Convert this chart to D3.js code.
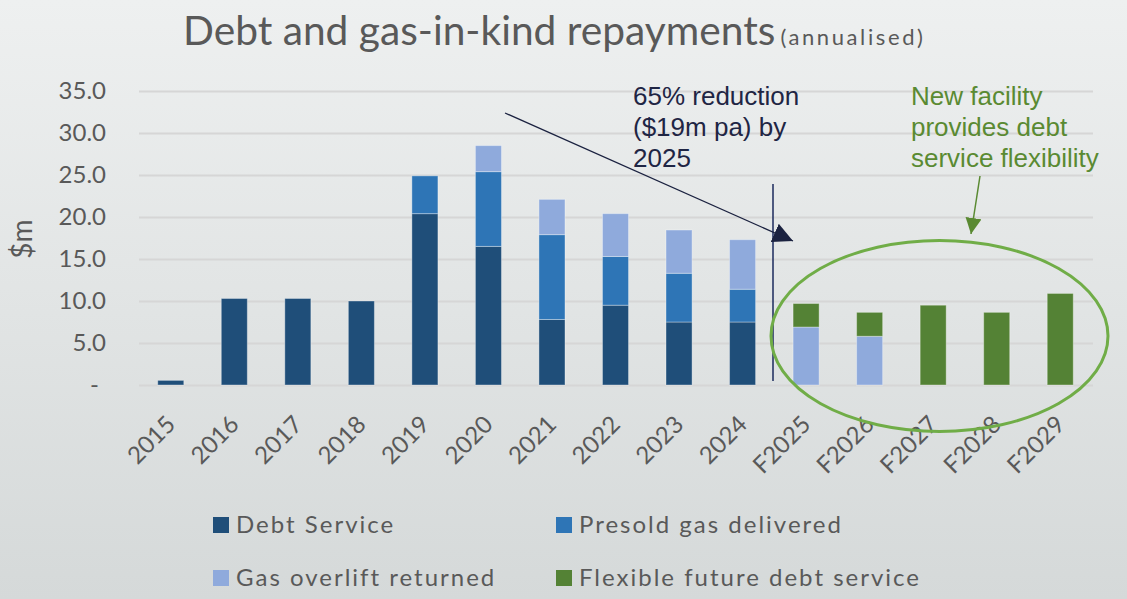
<!DOCTYPE html>
<html>
<head>
<meta charset="utf-8">
<script src="https://cdn.jsdelivr.net/npm/d3@7"></script>
<style>
  html, body { margin: 0; padding: 0; }
  body { width: 1127px; height: 599px; overflow: hidden; }
</style>
</head>
<body>
<div id="chart"></div>
<script>
// Chart data
const categories = ['2015', '2016', '2017', '2018', '2019', '2020', '2021', '2022', '2023', '2024',
  'F2025', 'F2026', 'F2027', 'F2028', 'F2029'];
const debtService = [0.55, 10.3, 10.3, 10.0, 20.4, 16.5, 7.8, 9.5, 7.5, 7.5, 0, 0, 0, 0, 0];
const presoldGas = [0, 0, 0, 0, 4.5, 8.9, 10.1, 5.8, 5.8, 3.9, 0, 0, 0, 0, 0];
const gasOverlift = [0, 0, 0, 0, 0, 3.1, 4.2, 5.1, 5.15, 5.9, 6.9, 5.8, 0, 0, 0];
const flexibleDebt = [0, 0, 0, 0, 0, 0, 0, 0, 0, 0, 2.8, 2.85, 9.5, 8.65, 10.9];
const yTicks = [0, 5, 10, 15, 20, 25, 30, 35];

const seriesNames = ['Debt Service', 'Presold gas delivered', 'Gas overlift returned', 'Flexible future debt service'];
const seriesColors = ['#1f4e79', '#2e75b6', '#8faadc', '#548235'];

const W = 1127, H = 599;
const font = 'Lato, "Open Sans", sans-serif';
const svg = d3.select('#chart').append('svg')
  .attr('width', W).attr('height', H);

// Background
const defs = svg.append('defs');
const grad = defs.append('linearGradient').attr('id', 'bg')
  .attr('x1', 0).attr('y1', 0).attr('x2', 0).attr('y2', 1);
grad.append('stop').attr('offset', '0%').attr('stop-color', '#eef0f0');
grad.append('stop').attr('offset', '100%').attr('stop-color', '#d5d9d9');
svg.append('rect').attr('width', W).attr('height', H).attr('fill', 'url(#bg)');

// arrow heads
[['dark', '#1b2240', 20], ['green', '#5a8a32', 16]].forEach(([k, col, size]) => {
  defs.append('marker').attr('id', 'arrow-' + k)
    .attr('viewBox', '0 0 10 10').attr('refX', 10).attr('refY', 5)
    .attr('markerWidth', size).attr('markerHeight', size).attr('markerUnits', 'userSpaceOnUse')
    .attr('orient', 'auto')
    .append('path').attr('d', 'M0,0 L10,5 L0,10 Z')
    .attr('fill', col);
});

// Title
const title = svg.append('text').attr('x', 183).attr('y', 45)
  .style('font-family', font).style('fill', '#595959');
title.append('tspan').text('Debt and gas-in-kind repayments').style('font-size', '40.7px');
title.append('tspan').text('(annualised)').attr('dx', 5)
  .style('font-size', '22px').style('letter-spacing', '2.6px');

// Scales
const x = d3.scaleBand().domain(categories).range([139, 1092])
  .paddingInner(0.59).paddingOuter(0.295);
const y = d3.scaleLinear().domain([0, 35]).range([385, 91]);

// Y axis with gridlines
const yAxis = svg.append('g').attr('transform', 'translate(139,0)')
  .call(d3.axisLeft(y).tickValues(yTicks).tickSize(-(1093 - 139)).tickPadding(33)
    .tickFormat(d => d === 0 ? '-' : d3.format('.1f')(d)));
yAxis.select('.domain').remove();
yAxis.selectAll('.tick line').attr('stroke', '#d6d6d6').attr('stroke-width', 2);
yAxis.selectAll('.tick text')
  .style('font-family', font).style('font-size', '24px').style('fill', '#595959')
  .attr('dx', d => d === 0 ? -7 : 0);

svg.append('text').attr('transform', 'translate(32,239) rotate(-90)')
  .attr('text-anchor', 'middle').text('$m')
  .style('font-family', font).style('font-size', '28px').style('fill', '#595959');

// Stacked bars
const rows = categories.map((c, i) => ({
  cat: c, s0: debtService[i], s1: presoldGas[i], s2: gasOverlift[i], s3: flexibleDebt[i]
}));
const stack = d3.stack().keys(['s0', 's1', 's2', 's3'])(rows);

svg.append('g').selectAll('g').data(stack).join('g')
  .attr('fill', (_, i) => seriesColors[i])
  .selectAll('rect').data(d => d.filter(v => v[1] - v[0] > 0)).join('rect')
  .attr('x', d => x(d.data.cat))
  .attr('y', d => y(d[1]))
  .attr('width', x.bandwidth())
  .attr('height', d => y(d[0]) - y(d[1]))
  .attr('stroke', 'rgba(255,255,255,0.35)').attr('stroke-width', 1);

// X labels
svg.append('g').selectAll('text').data(categories).join('text')
  .attr('transform', d => `translate(${x(d) + x.bandwidth() / 2 + 6},426) rotate(-45)`)
  .attr('text-anchor', 'end').text(d => d)
  .style('font-family', font).style('font-size', '24px').style('fill', '#595959');

// Annotations
svg.append('line').attr('x1', 773).attr('y1', 184).attr('x2', 773).attr('y2', 381)
  .attr('stroke', '#1b2a5c').attr('stroke-width', 1.5);
svg.append('line').attr('x1', 505).attr('y1', 113).attr('x2', 793).attr('y2', 241)
  .attr('stroke', '#1b2240').attr('stroke-width', 1.3)
  .attr('marker-end', 'url(#arrow-dark)');

const note1 = svg.append('text').style('font-family', '"Liberation Sans", Arial, sans-serif')
  .style('font-size', '26px').style('fill', '#1f2544');
['65% reduction', '($19m pa) by', '2025'].forEach((t, i) =>
  note1.append('tspan').attr('x', 633).attr('y', 105 + i * 31).text(t));

const note2 = svg.append('text').style('font-family', '"Liberation Sans", Arial, sans-serif')
  .style('font-size', '26px').style('fill', '#5a8a32');
['New facility', 'provides debt', 'service flexibility'].forEach((t, i) =>
  note2.append('tspan').attr('x', 911).attr('y', 105 + i * 31).text(t));

svg.append('line').attr('x1', 980).attr('y1', 176).attr('x2', 971).attr('y2', 234)
  .attr('stroke', '#5a8a32').attr('stroke-width', 1.5)
  .attr('marker-end', 'url(#arrow-green)');

svg.append('ellipse').attr('cx', 939.5).attr('cy', 336).attr('rx', 168.5).attr('ry', 95.5)
  .attr('fill', 'none').attr('stroke', '#70ad47').attr('stroke-width', 3);

// Legend
const legend = svg.append('g').selectAll('g').data(seriesNames).join('g')
  .attr('transform', (_, i) => `translate(${i % 2 === 0 ? 213 : 556},${i < 2 ? 517 : 570})`);
legend.append('rect').attr('width', 16).attr('height', 16).attr('fill', (_, i) => seriesColors[i]);
legend.append('text').attr('x', 23).attr('y', 16).text(d => d)
  .style('font-family', font).style('font-size', '24px')
  .style('letter-spacing', '2px').style('fill', '#595959');
</script>
</body>
</html>
